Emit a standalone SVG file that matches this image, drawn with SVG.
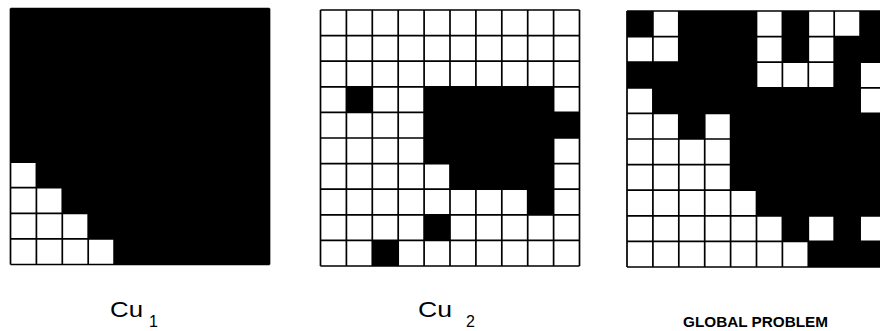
<svg xmlns="http://www.w3.org/2000/svg" width="880" height="331" viewBox="0 0 880 331">
<style>
.bg{fill:#fff}
.ln{fill:none;stroke:#000;stroke-width:1.7}
.k{fill:#000}
.lbl{font-family:"Liberation Sans",Arial,sans-serif;fill:#000}
</style>
<defs>
<path id="grid" class="ln" vector-effect="non-scaling-stroke" d="M0,0H10M0,1H10M0,2H10M0,3H10M0,4H10M0,5H10M0,6H10M0,7H10M0,8H10M0,9H10M0,10H10M0,0V10M1,0V10M2,0V10M3,0V10M4,0V10M5,0V10M6,0V10M7,0V10M8,0V10M9,0V10M10,0V10"/>
</defs>
<rect width="880" height="331" fill="#fff"/>
<g id="grid-cu1" transform="translate(10.5,8.5) scale(25.9,25.6)">
<rect class="bg" width="10" height="10"/>
<use href="#grid"/>
<rect class="k" x="0" y="0" width="10" height="6"/>
<rect class="k" x="1" y="6" width="9" height="1"/>
<rect class="k" x="2" y="7" width="8" height="1"/>
<rect class="k" x="3" y="8" width="7" height="1"/>
<rect class="k" x="4" y="9" width="6" height="1"/>
</g>
<g id="grid-cu2" transform="translate(320.5,10) scale(25.9,25.6)">
<rect class="bg" width="10" height="10"/>
<use href="#grid"/>
<rect class="k" x="1" y="3" width="1" height="1"/>
<rect class="k" x="4" y="3" width="5" height="3"/>
<rect class="k" x="9" y="4" width="1" height="1"/>
<rect class="k" x="5" y="6" width="4" height="1"/>
<rect class="k" x="8" y="7" width="1" height="1"/>
<rect class="k" x="4" y="8" width="1" height="1"/>
<rect class="k" x="2" y="9" width="1" height="1"/>
</g>
<g id="grid-global" transform="translate(627,11) scale(25.9,25.6)">
<rect class="bg" width="10" height="10"/>
<use href="#grid"/>
<rect class="k" x="0" y="0" width="1" height="1"/>
<rect class="k" x="2" y="0" width="3" height="2"/>
<rect class="k" x="6" y="0" width="1" height="2"/>
<rect class="k" x="9" y="0" width="1" height="2"/>
<rect class="k" x="8" y="1" width="1" height="3"/>
<rect class="k" x="0" y="2" width="5" height="1"/>
<rect class="k" x="1" y="3" width="8" height="1"/>
<rect class="k" x="2" y="4" width="1" height="1"/>
<rect class="k" x="4" y="4" width="6" height="3"/>
<rect class="k" x="5" y="7" width="5" height="1"/>
<rect class="k" x="6" y="8" width="1" height="1"/>
<rect class="k" x="8" y="8" width="1" height="1"/>
<rect class="k" x="7" y="9" width="3" height="1"/>
</g>
<g id="label-cu1" class="lbl">
<text x="110" y="317" font-size="22" textLength="33" lengthAdjust="spacingAndGlyphs">Cu</text>
<text x="149" y="327" font-size="16">1</text>
</g>
<g id="label-cu2" class="lbl">
<text x="418" y="317" font-size="22" textLength="34" lengthAdjust="spacingAndGlyphs">Cu</text>
<text x="466" y="327" font-size="16">2</text>
</g>
<g id="label-global" class="lbl">
<text x="683" y="327" font-size="15" font-weight="bold" textLength="145" lengthAdjust="spacingAndGlyphs">GLOBAL PROBLEM</text>
</g>
</svg>
